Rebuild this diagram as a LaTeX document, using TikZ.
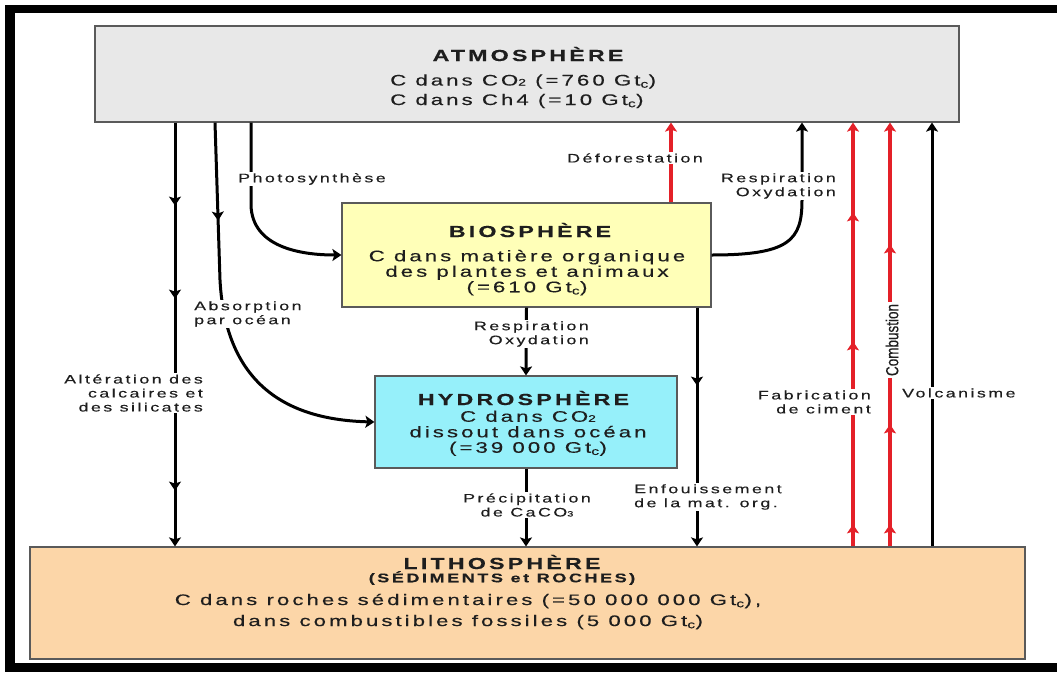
\documentclass[tikz,border=0pt]{standalone}
\usepackage{fontspec}
\setmainfont{Liberation Sans}
\usetikzlibrary{arrows.meta,decorations.markings,calc}
\newfontfamily\lblf[FakeStretch=1.45,LetterSpace=20,FakeBold=0.3]{Liberation Sans}
\newfontfamily\boxf[FakeStretch=1.45,LetterSpace=20,FakeBold=0.3]{Liberation Sans}
\newfontfamily\combf[FakeBold=0.3]{Liberation Sans}
\newcommand\lown[1]{\scalebox{0.62}{#1}}
\definecolor{atmgray}{RGB}{232,232,232}
\definecolor{bioyel}{RGB}{255,255,184}
\definecolor{hydcyan}{RGB}{150,240,250}
\definecolor{litpeach}{RGB}{252,214,168}
\definecolor{arrred}{RGB}{228,32,40}
\definecolor{boxline}{RGB}{90,90,90}
\definecolor{txt}{RGB}{30,30,30}
\tikzset{
  >={Stealth[length=9pt,width=12pt,inset=2pt]},
  resbox/.style={draw=boxline, line width=1.2pt, inner sep=0pt},
  titlef/.style={font=\boxf\bfseries\fontsize{16}{18}\selectfont, inner sep=0pt, text=txt},
  bodyf/.style={font=\boxf\fontsize{15.3}{15.5}\selectfont, inner sep=0pt, text=txt},
  lbl/.style={font=\lblf\fontsize{12.3}{14}\selectfont, fill=white, inner sep=1pt, text=txt},
  blk/.style={draw=black, line width=3pt},
  rd/.style={draw=arrred, line width=3.4pt},
  marks/.style={postaction={decorate}, decoration={markings, #1}},
}
\begin{document}
\begin{tikzpicture}[x=1pt,y=-1pt]
\useasboundingbox (0,0) rectangle (1057,672);
\fill[white] (0,0) rectangle (1057,672);
% reservoirs
\node[resbox, fill=atmgray, minimum width=864pt, minimum height=96pt] (atm) at (527,74) {};
\node[resbox, fill=bioyel, minimum width=369pt, minimum height=104pt] (bio) at (526.5,255) {};
\node[resbox, fill=hydcyan, minimum width=302pt, minimum height=92pt] (hydro) at (526,422) {};
\node[resbox, fill=litpeach, minimum width=995pt, minimum height=112pt] (litho) at (527.5,603) {};
% texts in reservoirs
\node[titlef] (atmT) at (528,54) {ATMOSPHÈRE};
\node[bodyf, font=\boxf\fontsize{15.3}{19.5}\selectfont, align=left, anchor=west] (atmB) at (390,91.3) {C dans CO\lown{2} (=760 Gt\textsubscript{c})\\C dans Ch4 (=10 Gt\textsubscript{c})};
\node[titlef] (bioT) at (530,230) {BIOSPHÈRE};
\node[bodyf, align=center] (bioB) at (527,272.7) {C dans matière organique\\des plantes et animaux\\(=610 Gt\textsubscript{c})};
\node[titlef] (hydT) at (523.5,398) {HYDROSPHÈRE};
\node[bodyf, align=center] (hydB) at (528,433.3) {C dans CO\lown{2}\\dissout dans océan\\(=39 000 Gt\textsubscript{c})};
\node[titlef] (litT) at (502,562) {LITHOSPHÈRE};
\node[font=\boxf\bfseries\fontsize{12.5}{13}\selectfont, inner sep=0pt, text=txt] (litS) at (502,578) {(SÉDIMENTS et ROCHES)};
\node[bodyf, font=\boxf\fontsize{15.3}{21}\selectfont, align=center] (litB) at (468,611.5) {C dans roches sédimentaires (=50 000 000 Gt\textsubscript{c}),\\dans combustibles fossiles (5 000 Gt\textsubscript{c})};
% connectors
\draw[blk,->,marks={mark=at position 83pt with {\arrow{>}}, mark=at position 176pt with {\arrow{>}}, mark=at position 368pt with {\arrow{>}}}]
  (175,0 |- atm.south) -- (175,0 |- litho.north);
\draw[blk,->,marks={mark=at position 98pt with {\arrow{>}}}]
  (215,0 |- atm.south) -- (220,280) .. controls (226,395) and (300,420) .. (hydro.west);
\draw[blk,->] (251,0 |- atm.south) -- (251,205) .. controls (252,247) and (300,255) .. (bio.west);
\draw[blk,->] (bio.south) -- (hydro.north);
\draw[blk,->] (hydro.south) -- (hydro.south |- litho.north);
\draw[blk,->,marks={mark=at position 78pt with {\arrow{>}}}]
  (697,0 |- bio.south) -- (697,0 |- litho.north);
\draw[rd,->] (671,0 |- bio.north) -- (671,0 |- atm.south);
\draw[blk,->] (bio.east) .. controls (790,255) and (802,240) .. (802,200) -- (802,0 |- atm.south);
\draw[rd,->,marks={mark=at position 22pt with {\arrow{>}}, mark=at position 205pt with {\arrow{>}}, mark=at position 334pt with {\arrow{>}}}]
  (853,0 |- litho.north) -- (853,0 |- atm.south);
\draw[rd,->,marks={mark=at position 22pt with {\arrow{>}}, mark=at position 122pt with {\arrow{>}}, mark=at position 302pt with {\arrow{>}}}]
  (890,0 |- litho.north) -- (890,0 |- atm.south);
\draw[blk,->] (932,0 |- litho.north) -- (932,0 |- atm.south);
% labels
\node[lbl] (lphoto) at (312,179) {Photosynthèse};
\node[lbl, align=left, anchor=west] (labs) at (193,314) {Absorption\\par océan};
\node[lbl, align=right, anchor=east] (lalt) at (204,393) {Altération des\\calcaires et\\des silicates};
\node[lbl, align=right, anchor=east] (lresp1) at (590,334) {Respiration\\Oxydation};
\node[lbl, align=center] (lprec) at (527,505) {Précipitation\\de CaCO\lown{3}};
\node[lbl, align=left, anchor=west] (lenf) at (633,497) {Enfouissement\\de la mat. org.};
\node[lbl] (ldef) at (635,158) {Déforestation};
\node[lbl, align=right, anchor=east] (lresp2) at (837,186) {Respiration\\Oxydation};
\node[lbl, align=right, anchor=east] (lfab) at (872,402) {Fabrication\\de ciment};
\node[lbl, anchor=west] (lvol) at (901,393) {Volcanisme};
\node[rotate=90, fill=white, inner sep=1.5pt, text=txt, font=\combf\fontsize{13.5}{15}\selectfont] (lcomb) at (892,340) {\scalebox{1}[1.3]{Combustion}};
% frame
\fill[black] (5,5) rectangle (1057,13);
\fill[black] (5,5) rectangle (15,672);
\fill[black] (5,663) rectangle (1057,672);
\end{tikzpicture}
\end{document}
